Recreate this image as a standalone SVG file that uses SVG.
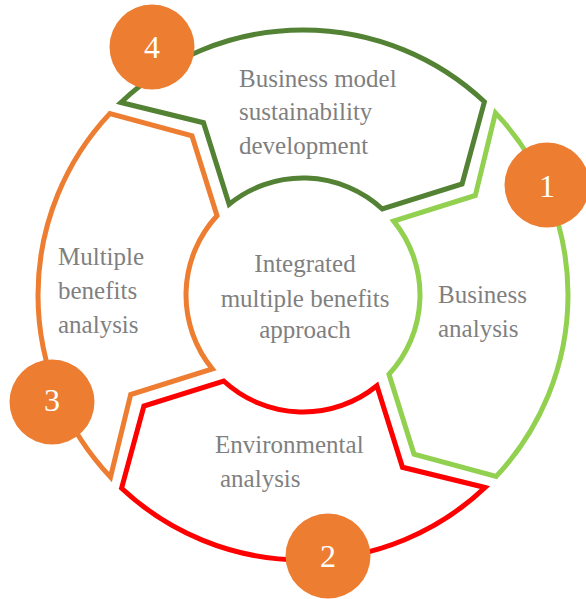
<svg xmlns="http://www.w3.org/2000/svg" width="586" height="599" viewBox="0 0 586 599">
<style>
.seg{fill:none;stroke-width:5;stroke-linejoin:miter}
.lbl{font-family:"Liberation Serif","Times New Roman",serif;font-size:25px;fill:#7f7f7f}
.num{font-family:"Liberation Serif","Times New Roman",serif;font-size:32px;fill:#ffffff;text-anchor:middle}
.badge{fill:#ED7D31}
</style>
<rect width="586" height="599" fill="#ffffff"/>
<g id="connectors"></g>
<g id="seg-business">
<path class="seg" stroke="#92D050" d="M495.5,112.9 L475.3,195.5 L393.7,221.1 A117,117 0 0 1 389,374.3 L414,454.1 L496.2,476.4 A265,265 0 0 0 495.5,112.9 Z"/>
<text class="lbl" x="438" y="303">Business</text>
<text class="lbl" x="438" y="337">analysis</text>
</g>
<g id="seg-environmental">
<path class="seg" stroke="#FF0000" d="M485.1,487.5 L402.5,467.3 L376.9,385.7 A117,117 0 0 1 223.7,381 L143.9,406 L121.6,488.2 A265,265 0 0 0 485.1,487.5 Z"/>
<text class="lbl" x="215" y="453">Environmental</text>
<text class="lbl" x="220" y="487">analysis</text>
</g>
<g id="seg-multiple">
<path class="seg" stroke="#ED7D31" d="M110.5,477.1 L130.7,394.5 L212.3,368.9 A117,117 0 0 1 217,215.7 L192,135.9 L109.8,113.6 A265,265 0 0 0 110.5,477.1 Z"/>
<text class="lbl" x="58" y="265">Multiple</text>
<text class="lbl" x="58" y="299">benefits</text>
<text class="lbl" x="58" y="333">analysis</text>
</g>
<g id="seg-model">
<path class="seg" stroke="#548235" d="M120.9,102.5 L203.5,122.7 L229.1,204.3 A117,117 0 0 1 382.3,209 L462.1,184 L484.4,101.8 A265,265 0 0 0 120.9,102.5 Z"/>
<text class="lbl" x="239" y="87">Business model</text>
<text class="lbl" x="239" y="120">sustainability</text>
<text class="lbl" x="239" y="154">development</text>
</g>
<g id="center">
<text class="lbl" x="305" y="272" text-anchor="middle">Integrated</text>
<text class="lbl" x="305" y="307" text-anchor="middle">multiple benefits</text>
<text class="lbl" x="305" y="338" text-anchor="middle">approach</text>
</g>
<g id="badge-1"><circle class="badge" cx="547" cy="185" r="42.5"/><text class="num" x="547" y="197">1</text></g>
<g id="badge-2"><circle class="badge" cx="328" cy="556" r="42.5"/><text class="num" x="328" y="567">2</text></g>
<g id="badge-3"><circle class="badge" cx="52" cy="402" r="42.5"/><text class="num" x="52" y="411">3</text></g>
<g id="badge-4"><circle class="badge" cx="152" cy="47" r="42.5"/><text class="num" x="152" y="58">4</text></g>
</svg>
